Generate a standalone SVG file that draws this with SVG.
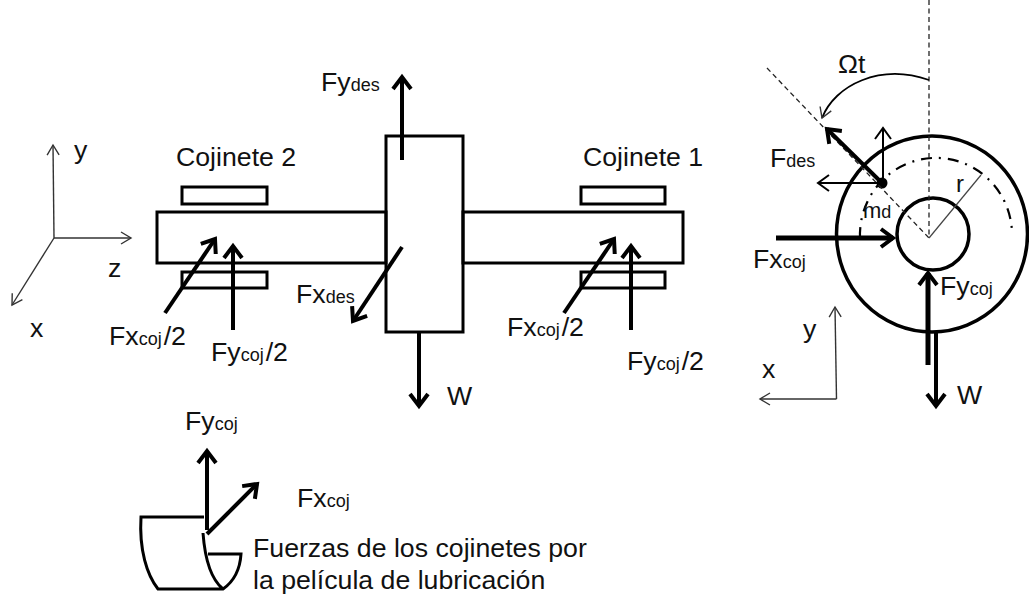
<svg xmlns="http://www.w3.org/2000/svg" width="1029" height="600" viewBox="0 0 1029 600">
<style>
text{font-family:"Liberation Sans",Arial,sans-serif;font-size:26.7px;fill:#111}
tspan{font-size:18px}
tspan.n{font-size:26.7px}
.s{fill:none;stroke:#000;stroke-width:3.5}
.t{fill:none;stroke:#000;stroke-width:3}
.a{fill:none;stroke:#000;stroke-width:4;marker-end:url(#h)}
.b{fill:none;stroke:#000;stroke-width:5;marker-end:url(#h)}
.m{fill:none;stroke:#000;stroke-width:2;marker-end:url(#m)}
.ax{fill:none;stroke:#333;stroke-width:1.4;marker-end:url(#n)}
.d{fill:none;stroke:#222;stroke-width:1.3;stroke-dasharray:5 3.5}
</style>
<defs>
<marker id="h" markerUnits="userSpaceOnUse" markerWidth="30" markerHeight="30" refX="15" refY="15" orient="auto" overflow="visible"><path d="M3,6 L15,15 L3,24" fill="none" stroke="#000" stroke-width="4"/></marker>
<marker id="m" markerUnits="userSpaceOnUse" markerWidth="30" markerHeight="30" refX="15" refY="15" orient="auto" overflow="visible"><path d="M4,7 L15,15 L4,23" fill="none" stroke="#000" stroke-width="2"/></marker>
<marker id="n" markerUnits="userSpaceOnUse" markerWidth="30" markerHeight="30" refX="15" refY="15" orient="auto" overflow="visible"><path d="M5,9 L15,15 L5,21" fill="none" stroke="#333" stroke-width="1.4"/></marker>
</defs>
<g id="shaft-left"><rect class="t" x="157" y="212" width="229" height="51"/></g>
<g id="shaft-right"><rect class="t" x="463" y="212" width="220" height="51"/></g>
<g id="bearing-2-top"><rect class="t" x="182" y="187" width="85" height="17"/></g>
<g id="bearing-2-bottom"><rect class="t" x="182" y="272" width="85" height="16"/></g>
<g id="bearing-1-top"><rect class="t" x="581" y="187" width="84" height="17"/></g>
<g id="bearing-1-bottom"><rect class="t" x="581" y="272" width="84" height="16"/></g>
<g id="disc-side"><rect class="t" x="386" y="136" width="77" height="196"/></g>
<g id="disc-front">
<ellipse class="s" cx="932" cy="234" rx="95.5" ry="98"/>
<circle class="s" cx="933" cy="234" r="36"/>
<path d="M860,238 A76,77 0 1 1 1012,232" fill="none" stroke="#000" stroke-width="2.2" stroke-dasharray="11 7 2 7"/>
<circle cx="882" cy="183" r="5.5" fill="#000"/>
</g>
<g id="journal">
<path class="t" d="M204,517 H141 C139,550 147,575 158,589 H223 C233,582 240,570 241,554 H208 M203,533 C205,560 212,580 223,589"/>
</g>
<g id="connectors">
<path class="ax" d="M54,238 L53,145"/>
<path class="ax" d="M54,238 H131"/>
<path class="ax" d="M54,238 L12,305"/>
<path class="ax" d="M836.5,399 L835,307"/>
<path class="ax" d="M836.5,399 H760"/>
<path class="a" d="M165,313 L215,239"/>
<path class="a" d="M233,330 V246"/>
<path class="a" d="M564,313 L614,239"/>
<path class="a" d="M631,330 V246"/>
<path class="a" d="M402,160 V77"/>
<path class="a" d="M419,332 V406"/>
<path class="a" d="M402,247 L353,321"/>
<path class="a" d="M207,530 V451"/>
<path class="a" d="M207,534 L257,484"/>
<path class="d" d="M929,0 V238"/>
<path class="d" d="M767,68 L929,238"/>
<path d="M929,238 L981,175" fill="none" stroke="#444" stroke-width="1.2"/>
<path class="ax" style="stroke:#000;stroke-width:1.8" d="M929,80 C880,63 835,85 822,118"/>
<path class="a" d="M882,183 L827,129"/>
<path class="m" d="M883,183 V128"/>
<path class="m" d="M883,183 H818"/>
<path class="b" d="M776,238 H893"/>
<path class="b" d="M928,365 V273"/>
<path class="a" d="M936,332 V406"/>
</g>
<g id="labels">
<text x="74" y="159">y</text>
<text x="108" y="277">z</text>
<text x="30" y="337">x</text>
<text x="176" y="166">Cojinete 2</text>
<text x="583" y="166">Cojinete 1</text>
<text x="109" y="345">Fx<tspan>coj</tspan><tspan class="n" dx="2">/2</tspan></text>
<text x="211" y="361">Fy<tspan>coj</tspan><tspan class="n" dx="2">/2</tspan></text>
<text x="507" y="336">Fx<tspan>coj</tspan><tspan class="n" dx="2">/2</tspan></text>
<text x="627" y="370">Fy<tspan>coj</tspan><tspan class="n" dx="2">/2</tspan></text>
<text x="321" y="91">Fy<tspan>des</tspan></text>
<text x="296" y="303">Fx<tspan>des</tspan></text>
<text x="447" y="405">W</text>
<text x="185" y="430">Fy<tspan>coj</tspan></text>
<text x="297" y="507">Fx<tspan>coj</tspan></text>
<text x="253" y="557">Fuerzas de los cojinetes por</text>
<text x="253" y="589">la película de lubricación</text>
<text x="838" y="73">Ωt</text>
<text x="770" y="167">F<tspan>des</tspan></text>
<text x="863" y="218" style="font-size:22px">m<tspan>d</tspan></text>
<text x="956" y="192" style="font-size:24px">r</text>
<text x="753" y="268">Fx<tspan>coj</tspan></text>
<text x="940" y="295">Fy<tspan>coj</tspan></text>
<text x="957" y="404">W</text>
<text x="803" y="338">y</text>
<text x="762" y="378">x</text>
</g>
</svg>
